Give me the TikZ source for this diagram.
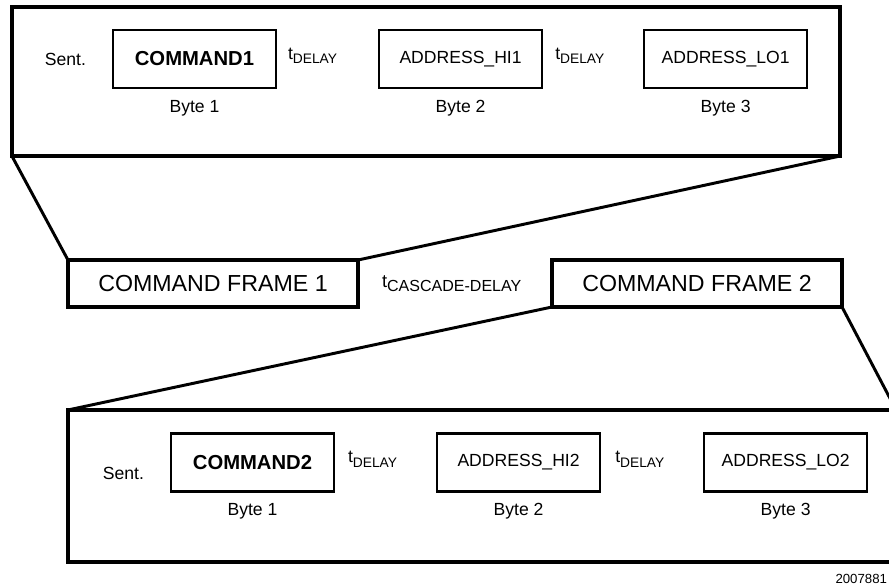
\documentclass[tikz,border=0pt]{standalone}
\usepackage{fontspec}
\setmainfont{Liberation Sans}
\usetikzlibrary{positioning}
% time label with a lowered subscript: \tlag[sub size]{NAME}
\newcommand{\tlag}[2][9.8]{t\raisebox{-3pt}{\fontsize{#1}{#1}\selectfont #2}}

\begin{document}
\begin{tikzpicture}[x=0.025cm,y=-0.025cm,line join=miter,
  seq/.style={draw,line width=2.4pt,outer sep=0pt,minimum width=20.7cm},
  framebox/.style={draw,line width=2.4pt,outer sep=0pt,minimum width=7.25cm,
    minimum height=1.175cm,font=\fontsize{16.5}{18}\selectfont},
  byte/.style={draw,line width=1.5pt,outer sep=0pt,minimum width=4.075cm,
    minimum height=1.45cm,font=\fontsize{12.5}{14}\selectfont},
  cmd/.style={byte,font=\fontsize{14.4}{16}\selectfont\bfseries},
  txt/.style={inner sep=0pt,outer sep=0pt,font=\fontsize{12.5}{14}\selectfont},
  link/.style={line width=2.1pt}]
\path[use as bounding box] (0,0) rectangle (889,586);
\clip (0,0) rectangle (889,586);

% first frame, byte by byte
\node[seq,minimum height=3.725cm] (seq1) at (426,81.5) {};
\node[cmd] (cmd1) at (194.5,59) {COMMAND1};
\node[byte,right=2.575cm of cmd1] (hi1) {ADDRESS\_HI1};
\node[byte,right=2.55cm of hi1] (lo1) {ADDRESS\_LO1};
\node[txt,left=0.675cm of cmd1] (sent1) {Sent.};
\node[txt,right=0.3cm of cmd1,yshift=0.08cm] (dA1) {\tlag{DELAY}};
\node[txt,right=0.33cm of hi1,yshift=0.08cm] (dB1) {\tlag{DELAY}};
\node[txt,below=0.3cm of cmd1] (byteA1) {Byte 1};
\node[txt,below=0.3cm of hi1] (byteB1) {Byte 2};
\node[txt,below=0.3cm of lo1] (byteC1) {Byte 3};

% the two frames on the bus
\node[framebox] (frame1) at (213,283.5) {COMMAND FRAME 1};
\node[framebox] (frame2) at (697,283.5) {COMMAND FRAME 2};
\node[txt,right=0.6cm of frame1,font=\fontsize{13}{15}\selectfont] (cascade)
  {\tlag[11.4]{CASCADE-DELAY}};

% second frame, byte by byte
\node[seq,minimum height=3.8cm] (seq2) at (482,486) {};
\node[cmd] (cmd2) at (252.5,462.5) {COMMAND2};
\node[byte,right=2.575cm of cmd2] (hi2) {ADDRESS\_HI2};
\node[byte,right=2.6cm of hi2] (lo2) {ADDRESS\_LO2};
\node[txt,left=0.675cm of cmd2,yshift=-0.28cm] (sent2) {Sent.};
\node[txt,right=0.35cm of cmd2,yshift=0.08cm] (dA2) {\tlag{DELAY}};
\node[txt,right=0.38cm of hi2,yshift=0.08cm] (dB2) {\tlag{DELAY}};
\node[txt,below=0.3cm of cmd2] (byteA2) {Byte 1};
\node[txt,below=0.3cm of hi2] (byteB2) {Byte 2};
\node[txt,below=0.3cm of lo2] (byteC2) {Byte 3};

% zoom lines between the frames
\draw[link] (seq1.south west) -- (frame1.north west);
\draw[link] (seq1.south east) -- (frame1.north east);
\draw[link] (frame2.south west) -- (seq2.north west);
\draw[link] (frame2.south east) -- (seq2.north east);

\node[txt,anchor=east,font=\fontsize{9.4}{10}\selectfont] (fignum) at (887,579) {2007881};
\end{tikzpicture}
\end{document}
